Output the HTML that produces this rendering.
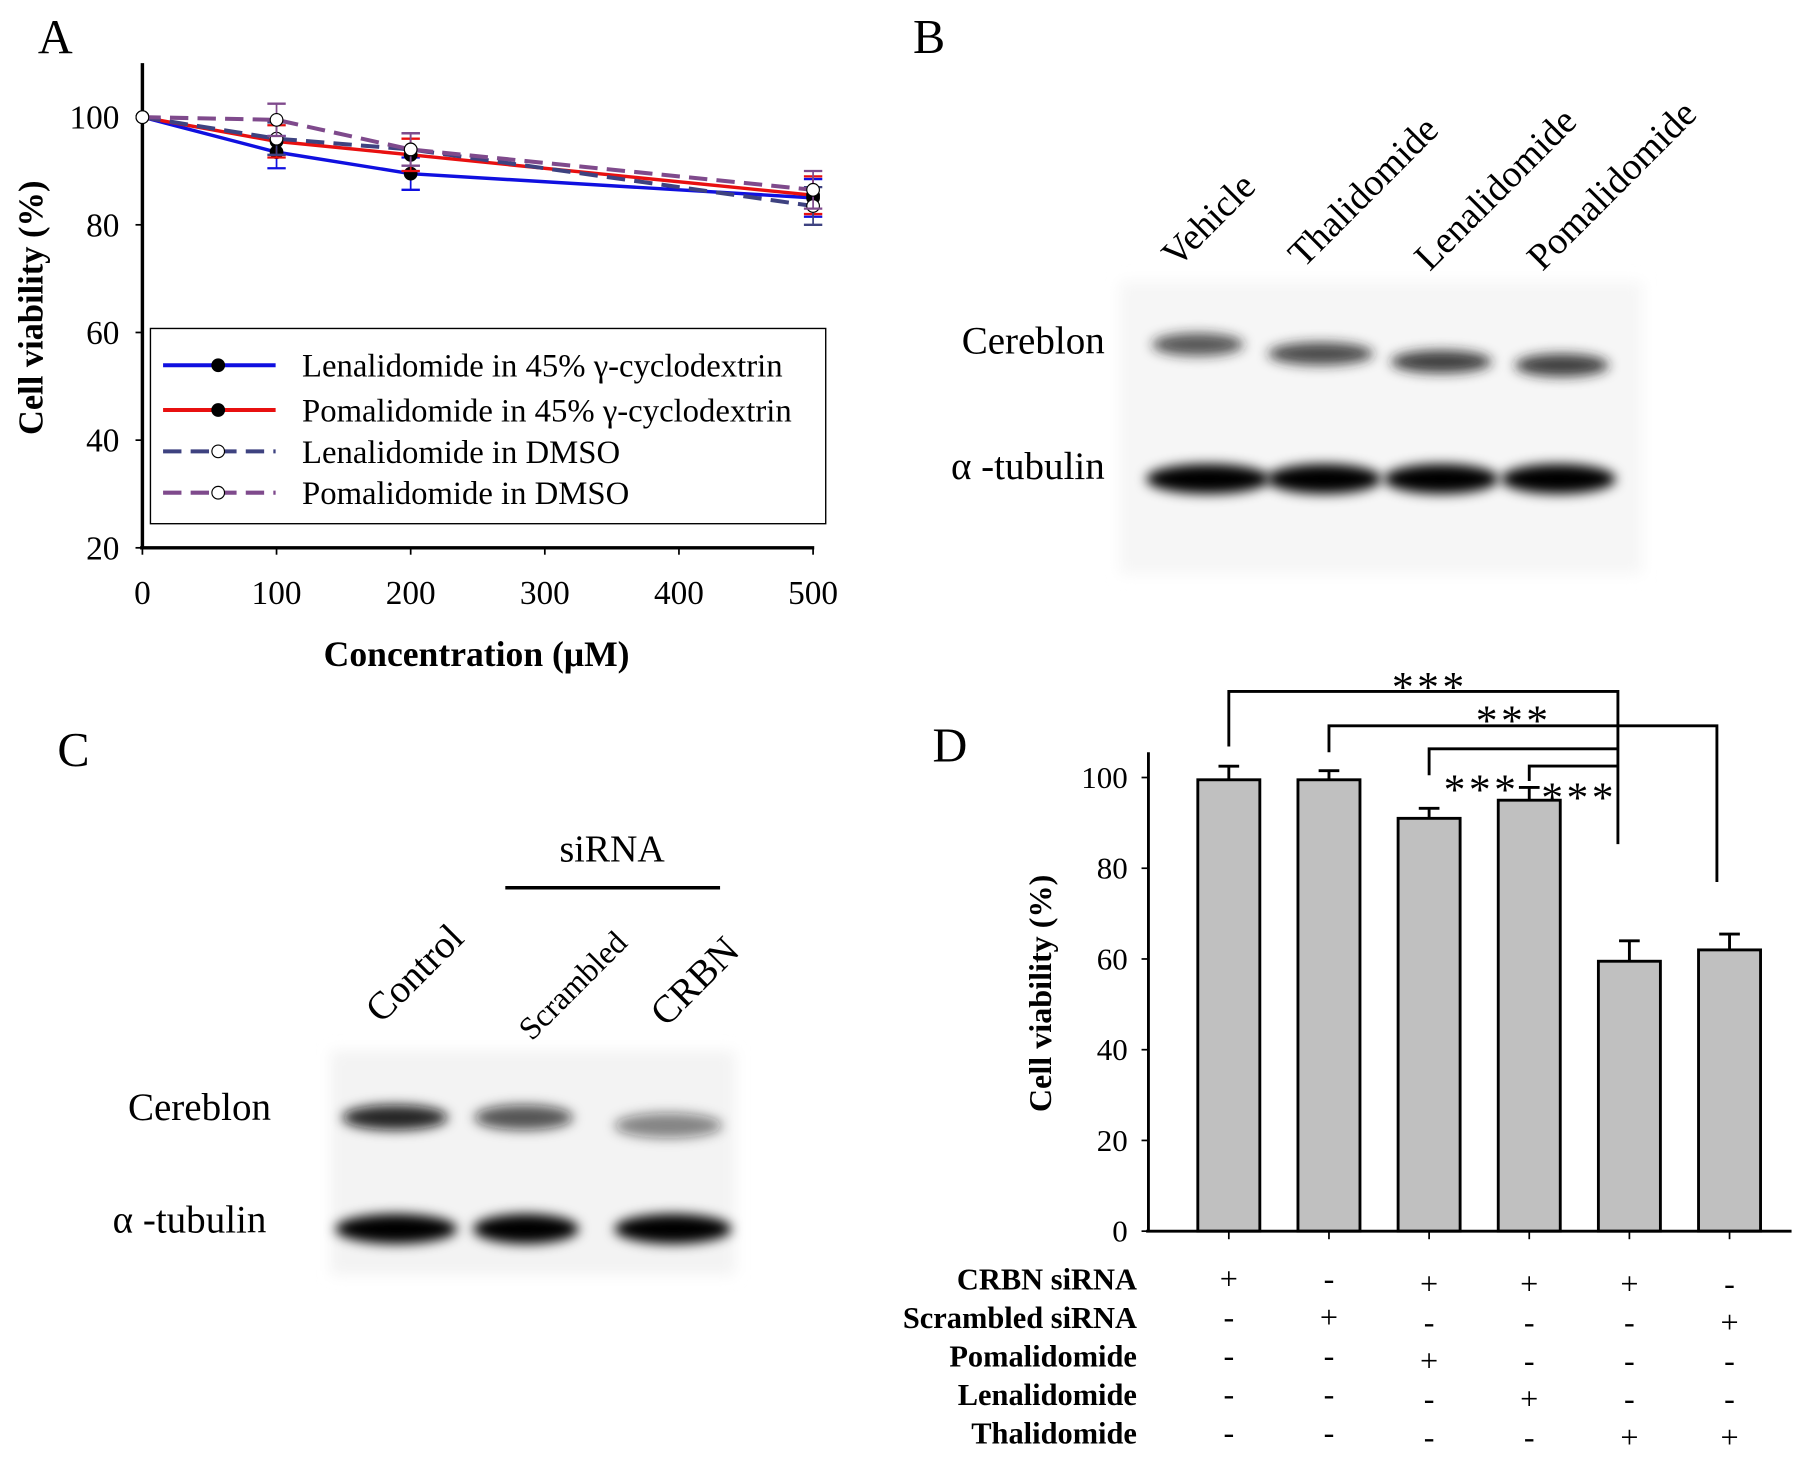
<!DOCTYPE html>
<html><head><meta charset="utf-8"><style>
html,body{margin:0;padding:0;background:#fff;}
svg{display:block;font-family:"Liberation Serif",serif;}
</style></head><body>
<svg id="fig" width="1795" height="1462" viewBox="0 0 1563 1273" preserveAspectRatio="none" xmlns="http://www.w3.org/2000/svg">
<defs>
<filter id="blur" x="-30%" y="-100%" width="160%" height="300%"><feGaussianBlur stdDeviation="5"/></filter>
<filter id="blur2" x="-10%" y="-10%" width="120%" height="120%"><feGaussianBlur stdDeviation="6"/></filter>
</defs>
<rect width="1563" height="1273" fill="#fff"/>
<g id="panelA"></g>
<g id="panelB"></g>
<g id="panelC"></g>
<g id="panelD"></g>
</svg>
<script>
// Panel A data
const concs = [0, 100, 200, 500];
const xTicksA = [0, 100, 200, 300, 400, 500];
const yTicksA = [20, 40, 60, 80, 100];
const lenCyclo = [100, 93.5, 89.5, 85];
const pomCyclo = [100, 95.5, 93, 85.5];
const lenDMSO = [100, 96, 94, 83.5];
const pomDMSO = [100, 99.5, 94, 86.5];
const errA = [0, 3, 3, 3.5];
const seriesNames = ["Lenalidomide in 45% γ-cyclodextrin","Pomalidomide in 45% γ-cyclodextrin","Lenalidomide in DMSO","Pomalidomide in DMSO"];
// Panel D data
const groups = ["g1","g2","g3","g4","g5","g6"];
const viability = [99.5, 99.5, 91, 95, 59.5, 62];
const errD = [3, 2, 2.2, 2.8, 4.5, 3.5];
const yTicksD = [0, 20, 40, 60, 80, 100];
const rowLabels = ["CRBN siRNA","Scrambled siRNA","Pomalidomide","Lenalidomide","Thalidomide"];
const signs = [["+","-","+","+","+","-"],["-","+","-","-","-","+"],["-","-","+","-","-","-"],["-","-","-","+","-","-"],["-","-","-","-","+","+"]];

const NS="http://www.w3.org/2000/svg";
function el(parent,tag,attrs,text){const e=document.createElementNS(NS,tag);for(const k in attrs)e.setAttribute(k,attrs[k]);if(text!==undefined)e.textContent=text;parent.appendChild(e);return e;}

// ---------- Panel A ----------
const A=document.getElementById('panelA');
const ax=v=>124+(v/500)*584;
const ay=v=>477-(v-20)/80*375;
let t=el(A,'text',{x:33,y:46,'font-size':42},'A');


let ln=el(A,'line',{x1:124,y1:55,x2:124,y2:478,stroke:'#000','stroke-width':3});


ln=el(A,'line',{x1:122,y1:477,x2:709,y2:477,stroke:'#000','stroke-width':3});


yTicksA.forEach(v=>{el(A,'line',{x1:118,y1:ay(v),x2:124,y2:ay(v),stroke:'#000','stroke-width':1.5});
 const tx=el(A,'text',{x:104,y:ay(v)+10,'font-size':29,'text-anchor':'end'},v);
 
 });
xTicksA.forEach(v=>{el(A,'line',{x1:ax(v),y1:477,x2:ax(v),y2:483,stroke:'#000','stroke-width':1.5});
 const tx=el(A,'text',{x:ax(v),y:526,'font-size':29,'text-anchor':'middle'},v);
 
 });
t=el(A,'text',{x:415,y:580,'font-size':31,'font-weight':'bold','text-anchor':'middle'},'Concentration (μM)');


t=el(A,'text',{x:0,y:0,'font-size':30,'font-weight':'bold','text-anchor':'middle',transform:'translate(37,268) rotate(-90)'},'Cell viability (%)');


const styles=[{d:lenCyclo,c:'#1010e0',dash:'',fill:'#000',w:3},{d:pomCyclo,c:'#e81010',dash:'',fill:'#000',w:3},{d:lenDMSO,c:'#3e4280',dash:'16 8',fill:'#fff',w:3.5},{d:pomDMSO,c:'#7f4a8c',dash:'16 8',fill:'#fff',w:3.5}];
styles.forEach((s,i)=>{
 const g=el(A,'g',{});
 
 
 s.d.forEach((v,j)=>{ if(errA[j]>0){el(g,'line',{x1:ax(concs[j]),y1:ay(v-errA[j]),x2:ax(concs[j]),y2:ay(v+errA[j]),stroke:s.c,'stroke-width':1.5});
  [v-errA[j],v+errA[j]].forEach(e=>el(g,'line',{x1:ax(concs[j])-8,y1:ay(e),x2:ax(concs[j])+8,y2:ay(e),stroke:s.c,'stroke-width':2}));}});
 const pl=el(g,'polyline',{points:s.d.map((v,j)=>ax(concs[j])+','+ay(v)).join(' '),fill:'none',stroke:s.c,'stroke-width':s.w,'stroke-dasharray':s.dash});
 
 
 s.d.forEach((v,j)=>{const c=el(g,'circle',{cx:ax(concs[j]),cy:ay(v),r:5.5,fill:s.fill,stroke:'#000','stroke-width':1});
  
  });
});
const leg=el(A,'g',{});


el(leg,'rect',{x:131,y:286,width:588,height:170,fill:'#fff',stroke:'#000','stroke-width':1.2});
[318,357,393,429].forEach((y,i)=>{const s=styles[i];
 const e=el(leg,'g',{});
 
 
 el(e,'line',{x1:142,y1:y,x2:240,y2:y,stroke:s.c,'stroke-width':3.5,'stroke-dasharray':s.dash});
 el(e,'circle',{cx:190,cy:y,r:5.5,fill:s.fill,stroke:'#000','stroke-width':1});
 el(e,'text',{x:263,y:y+10,'font-size':28.5},seriesNames[i]);});

// ---------- Panel B ----------
const B=document.getElementById('panelB');
t=el(B,'text',{x:795,y:46,'font-size':42},'B');


[['Vehicle',1025,234],['Thalidomide',1135,234],['Lenalidomide',1245,237],['Pomalidomide',1343,237]].forEach(([s,x,y])=>{
 const tx=el(B,'text',{x:0,y:0,'font-size':33,transform:`translate(${x},${y}) rotate(-45)`},s);
 
 });
const blotB=el(B,'g',{});


el(blotB,'rect',{x:975,y:245,width:455,height:255,fill:'#f6f6f6',filter:'url(#blur2)'});
[[1043,300,80,0.75],[1150,308,92,0.8],[1255,315,88,0.85],[1360,318,82,0.85]].forEach(([x,y,w,o])=>el(blotB,'ellipse',{cx:x,cy:y,rx:w/2,ry:10,fill:'#222','fill-opacity':o,filter:'url(#blur)'}));
[1052,1153,1255,1357].forEach((x,i)=>el(blotB,'ellipse',{cx:x,cy:417,rx:i==0?54:50,ry:13,fill:'#000',filter:'url(#blur)'}));
t=el(B,'text',{x:962,y:308,'font-size':34,'text-anchor':'end'},'Cereblon');


t=el(B,'text',{x:962,y:417,'font-size':34,'text-anchor':'end'},'α -tubulin');



// ---------- Panel C ----------
const C=document.getElementById('panelC');
t=el(C,'text',{x:50,y:667,'font-size':42},'C');


t=el(C,'text',{x:533,y:750,'font-size':33,'text-anchor':'middle'},'siRNA');


el(C,'line',{x1:440,y1:773,x2:627,y2:773,stroke:'#000','stroke-width':3});
[['Control',332,892,34],['Scrambled',463,907,28],['CRBN',580,895,34]].forEach(([s,x,y,fs])=>{
 const tx=el(C,'text',{x:0,y:0,'font-size':fs,transform:`translate(${x},${y}) rotate(-45)`},s);
 
 });
const blotC=el(C,'g',{});


el(blotC,'rect',{x:288,y:915,width:352,height:195,fill:'#f3f3f3',filter:'url(#blur2)'});
[[344,973,92,0.9],[456,973,86,0.7],[582,980,94,0.5]].forEach(([x,y,w,o])=>el(blotC,'ellipse',{cx:x,cy:y,rx:w/2,ry:11,fill:'#111','fill-opacity':o,filter:'url(#blur)'}));
[[345,106],[458,92],[586,102]].forEach(([x,w])=>el(blotC,'ellipse',{cx:x,cy:1070,rx:w/2,ry:13,fill:'#000',filter:'url(#blur)'}));
t=el(C,'text',{x:236,y:975,'font-size':34,'text-anchor':'end'},'Cereblon');


t=el(C,'text',{x:232,y:1073,'font-size':34,'text-anchor':'end'},'α -tubulin');



// ---------- Panel D ----------
const D=document.getElementById('panelD');
const dx=i=>1070+i*87.2;
const dy=v=>1072-v*3.95;
t=el(D,'text',{x:812,y:663,'font-size':42},'D');


viability.forEach((v,i)=>{
 const b=el(D,'rect',{x:dx(i)-27,y:dy(v),width:54,height:dy(0)-dy(v),fill:'#c0c0c0',stroke:'#000','stroke-width':2.5});
 
 
 const e=el(D,'path',{d:`M${dx(i)},${dy(v)} V${dy(v+errD[i])} M${dx(i)-9},${dy(v+errD[i])} H${dx(i)+9}`,stroke:'#000','stroke-width':2.5,fill:'none'});
 
 
});
ln=el(D,'line',{x1:1000,y1:655,x2:1000,y2:1073,stroke:'#000','stroke-width':2.5});


ln=el(D,'line',{x1:998,y1:1072,x2:1560,y2:1072,stroke:'#000','stroke-width':2.5});


yTicksD.forEach(v=>{el(D,'line',{x1:994,y1:dy(v),x2:1000,y2:dy(v),stroke:'#000','stroke-width':1.5});
 const tx=el(D,'text',{x:982,y:dy(v)+9,'font-size':27,'text-anchor':'end'},v);
 
 });
groups.forEach((g,i)=>el(D,'line',{x1:dx(i),y1:1072,x2:dx(i),y2:1079,stroke:'#000','stroke-width':1.5}));
t=el(D,'text',{x:0,y:0,'font-size':28,'font-weight':'bold','text-anchor':'middle',transform:'translate(915,865) rotate(-90)'},'Cell viability (%)');


rowLabels.forEach((r,ri)=>{const y=1123+ri*33.5;
 const tx=el(D,'text',{x:990,y:y,'font-size':26.5,'font-weight':'bold','text-anchor':'end'},r);
 
 
 signs[ri].forEach((s,i)=>{const sx=el(D,'text',{x:dx(i),y:y+(i>=2?4:0),'font-size':28,'text-anchor':'middle'},s);
  
  });});
const sig=el(D,'g',{});


const bst={stroke:'#000','stroke-width':2.5,fill:'none'};
el(sig,'path',Object.assign({d:`M${dx(0)},650 V602 H${dx(4)-10} V735`},bst));
el(sig,'path',Object.assign({d:`M${dx(1)},655 V632 H${dx(5)-11} V768`},bst));
el(sig,'path',Object.assign({d:`M${dx(2)},675 V652 H${dx(4)-10}`},bst));
el(sig,'path',Object.assign({d:`M${dx(3)},680 V667 H${dx(4)-10}`},bst));
[[1245,611],[1318,640],[1290,700],[1375,707]].forEach(([x,y])=>{const s=el(sig,'text',{x:x,y:y,'font-size':38,'text-anchor':'middle','letter-spacing':'3'},'***');
 
 });
</script>
</body></html>
